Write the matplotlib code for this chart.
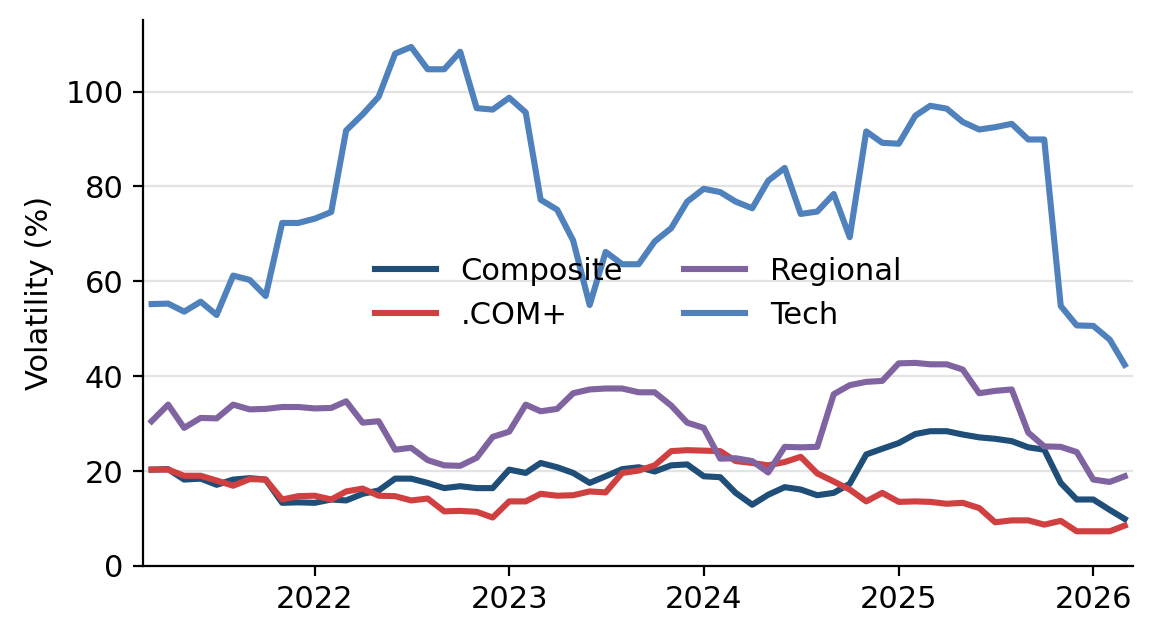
import numpy as np
import pandas as pd
import matplotlib
matplotlib.use("Agg")
import matplotlib.pyplot as plt

# monthly observations, Mar 2021 .. Mar 2026
dates = pd.date_range("2021-03-01", "2026-03-01", freq="MS")

composite = [20.3, 20.4, 18.2, 18.4, 17.1, 18.2, 18.5, 18.2, 13.3, 13.4,
             13.3, 14.0, 13.8, 15.2, 15.9, 18.4, 18.4, 17.5, 16.4, 16.8,
             16.4, 16.4, 20.3, 19.6, 21.7, 20.8, 19.6, 17.5, 18.9, 20.4,
             20.8, 19.9, 21.2, 21.4, 18.9, 18.7, 15.4, 12.9, 15.0, 16.6,
             16.1, 14.9, 15.4, 17.3, 23.5, 24.7, 25.9, 27.8, 28.4, 28.4,
             27.7, 27.1, 26.8, 26.3, 25.0, 24.5, 17.5, 14.0, 14.0, 11.8,
             9.9]
dotcom = [20.3, 20.3, 19.0, 19.0, 18.0, 16.9, 18.3, 18.2, 14.0, 14.7,
          14.8, 14.0, 15.7, 16.3, 14.8, 14.7, 13.8, 14.2, 11.5, 11.6,
          11.4, 10.2, 13.6, 13.6, 15.2, 14.8, 14.9, 15.7, 15.5, 19.6,
          20.1, 21.2, 24.2, 24.4, 24.3, 24.2, 22.1, 21.7, 21.2, 21.9,
          23.0, 19.5, 17.8, 16.1, 13.6, 15.4, 13.5, 13.6, 13.5, 13.1,
          13.3, 12.2, 9.2, 9.6, 9.6, 8.7, 9.5, 7.3, 7.3, 7.3,
          8.5]
regional = [30.5, 34.0, 29.1, 31.2, 31.1, 34.0, 33.0, 33.1, 33.5, 33.5,
            33.2, 33.3, 34.7, 30.2, 30.5, 24.5, 24.9, 22.3, 21.2, 21.1,
            22.8, 27.2, 28.3, 34.0, 32.6, 33.1, 36.4, 37.2, 37.4, 37.4,
            36.6, 36.6, 33.8, 30.2, 29.1, 22.6, 22.7, 22.1, 19.7, 25.1,
            25.0, 25.1, 36.2, 38.1, 38.8, 39.0, 42.7, 42.8, 42.5, 42.5,
            41.4, 36.4, 36.9, 37.2, 28.1, 25.2, 25.1, 24.0, 18.2, 17.7,
            18.9]
tech = [55.2, 55.3, 53.6, 55.7, 52.9, 61.2, 60.3, 56.9, 72.3, 72.3,
        73.2, 74.6, 91.8, 95.2, 98.9, 108.0, 109.4, 104.7, 104.7, 108.4,
        96.5, 96.2, 98.7, 95.6, 77.2, 75.1, 68.6, 55.0, 66.2, 63.6,
        63.6, 68.4, 71.2, 76.8, 79.5, 78.8, 76.8, 75.4, 81.2, 83.9,
        74.2, 74.7, 78.4, 69.3, 91.6, 89.2, 89.0, 94.9, 97.0, 96.4,
        93.6, 92.0, 92.5, 93.2, 89.9, 89.9, 54.8, 50.7, 50.6, 47.7,
        42.4]

series = [("Composite", composite, "#1f4e79"),
          (".COM+", dotcom, "#d04040"),
          ("Regional", regional, "#8064a2"),
          ("Tech", tech, "#4f81bd")]

plt.rcParams["font.family"] = ["DejaVu Sans"]
plt.rcParams["font.size"] = 11

fig, ax = plt.subplots(figsize=(5.77, 3.19), dpi=200)
for name, vals, color in series:
    ax.plot(dates, vals, color=color, lw=2.2, label=name)

ax.set_ylim(0, 115)
ax.set_yticks([0, 20, 40, 60, 80, 100])
ax.set_xlim(dates[0] - pd.Timedelta(days=16), dates[-1] + pd.Timedelta(days=16))
ax.set_xticks(pd.to_datetime(["2022-01-01", "2023-01-01", "2024-01-01",
                              "2025-01-01", "2026-01-01"]))
ax.set_xticklabels(["2022", "2023", "2024", "2025", "2026"])
ax.set_ylabel("Volatility (%)")
ax.grid(axis="y", color="#e3e3e3", lw=0.8)
ax.set_axisbelow(True)
for side in ("top", "right"):
    ax.spines[side].set_visible(False)

ax.legend(loc="center", ncol=2, frameon=False)

fig.subplots_adjust(left=0.124, right=0.982, top=0.968, bottom=0.113)
fig.savefig("out.png")
